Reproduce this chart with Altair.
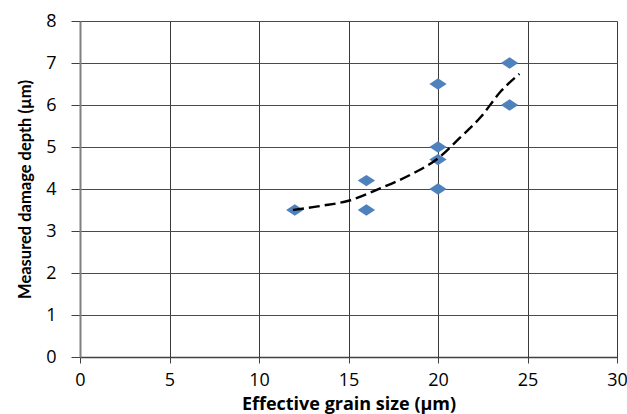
import altair as alt
import pandas as pd

# measured points
grain_size = [12, 16, 16, 20, 20, 20, 20, 24, 24]
damage_depth = [3.5, 4.2, 3.5, 6.5, 5.0, 4.7, 4.0, 7.0, 6.0]

# dashed trend line
trend_x = [11.9, 13.5, 15.0, 16.8, 18.6, 20.0, 21.2, 22.4, 23.5, 24.55]
trend_y = [3.5, 3.6, 3.72, 4.02, 4.37, 4.73, 5.21, 5.72, 6.32, 6.74]

pts = pd.DataFrame({"x": grain_size, "y": damage_depth})
trend = pd.DataFrame({"x": trend_x, "y": trend_y})

LFONT = "Open Sans"

xs = alt.Scale(domain=[0, 30], nice=False, zero=False)
ys = alt.Scale(domain=[0, 8], nice=False, zero=False)

xaxis = alt.Axis(
    title="Effective grain size (µm)", values=[0, 5, 10, 15, 20, 25, 30],
    tickSize=6, labelPadding=8, titlePadding=6,
    labelFontSize=18, titleFontSize=18, labelFont=LFONT, titleFont="Open Sans",
    titleFontWeight="bold", labelColor="#000", titleColor="#000",
    domainColor="#404040", domainWidth=1.5, tickColor="#404040",
    gridColor="#3a3a3a", labelFlush=False,
)
yaxis = alt.Axis(
    title="Measured damage depth (µm)", values=list(range(0, 9)),
    tickSize=9, labelPadding=15, titlePadding=12,
    labelFontSize=18, titleFontSize=16.5, labelFont=LFONT, titleFont="Lato",
    titleFontWeight="bold", labelColor="#000", titleColor="#000",
    domainColor="#808080", domainWidth=2, tickColor="#404040",
    gridColor="#4a4a4a",
)

points = alt.Chart(pts).mark_point(
    shape="M-1,0L0,-0.66L1,0L0,0.66Z", filled=True, color="#4F81BD",
    opacity=1, size=300,
).encode(
    x=alt.X("x:Q", scale=xs, axis=xaxis),
    y=alt.Y("y:Q", scale=ys, axis=yaxis),
)

line = alt.Chart(trend).mark_line(
    color="#000", strokeWidth=2.4, strokeDash=[11, 5], interpolate="monotone"
).encode(
    x=alt.X("x:Q", scale=xs),
    y=alt.Y("y:Q", scale=ys),
)

chart = alt.layer(points, line).properties(
    width=537, height=336,
    autosize=alt.AutoSizeParams(type="none"),
    padding={"left": 80, "top": 21, "right": 10, "bottom": 57},
).configure_view(stroke="#8c8c8c", strokeWidth=1.5).configure(background="white")

chart.save("out.html", embed_options={"renderer": "svg", "actions": False})
